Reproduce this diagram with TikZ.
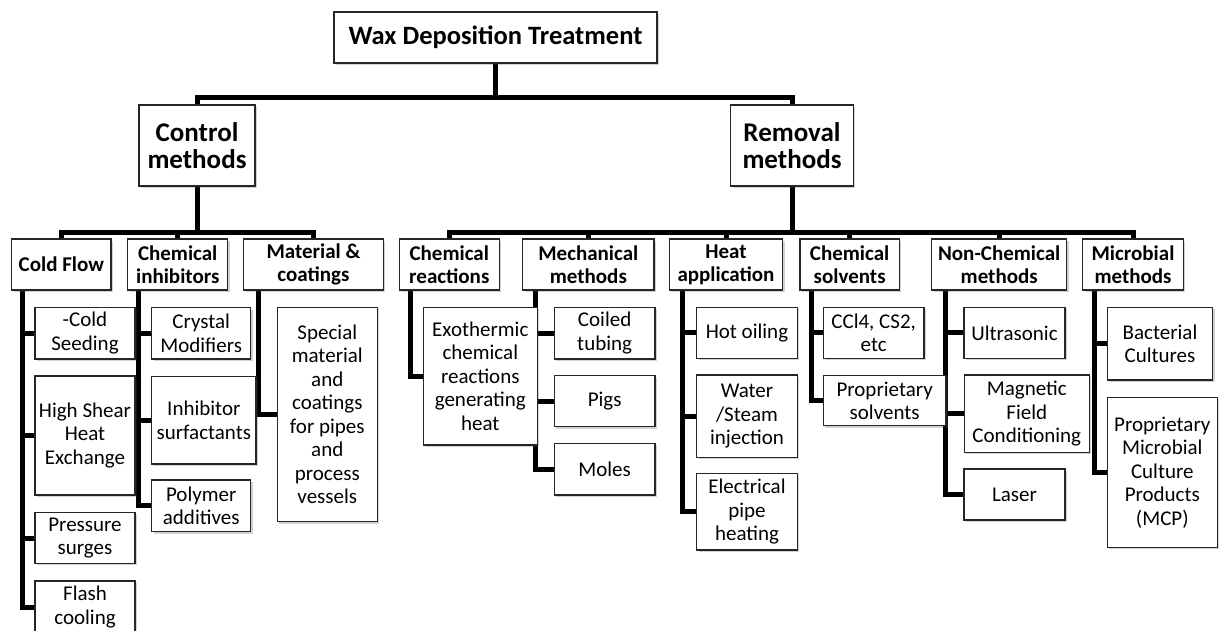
\documentclass[tikz,border=0pt]{standalone}
\usepackage{fontspec}
\setmainfont{Carlito}
\usetikzlibrary{shadows,backgrounds,calc}
\tikzset{
  box/.style={draw=black!85, line width=1.3pt, fill=white, inner sep=0pt, outer sep=0pt, align=center,
    drop shadow={shadow xshift=2pt, shadow yshift=-2pt, opacity=0.25, fill=black!70}},
  lvlzero/.style={box, font=\bfseries\fontsize{26.5}{28}\selectfont},
  lvlone/.style={box, font=\bfseries\fontsize{27}{27.5}\selectfont},
  lvltwo/.style={box, font=\bfseries\fontsize{21}{22.7}\selectfont},
  leaf/.style={box, font=\fontsize{21}{23.5}\selectfont},
  conn/.style={line width=5pt, black},
}
\newcommand\bx[7]{\node[#1, anchor=north west, minimum width={(#5)-(#3)}, minimum height={(#6)-(#4)}] (#2) at (#3,#4) {#7};}
\begin{document}
\begin{tikzpicture}[x=1pt,y=-1pt]
\useasboundingbox (0,0) rectangle (1222,630);
% top levels
\bx{lvlzero}{top}{334}{12}{657}{63}{Wax Deposition Treatment}
\bx{lvlone}{ctrl}{139}{105}{255}{186}{Control\\methods}
\bx{lvlone}{rem}{730.7}{105}{853.3}{186}{Removal\\methods}
% second level
\bx{lvltwo}{cold}{11.7}{239}{111}{290}{Cold Flow}
\bx{lvltwo}{chi}{127.7}{239}{227.7}{290}{Chemical\\inhibitors}
\bx{lvltwo}{mat}{243.7}{239}{383.3}{290}{Material \&\\coatings}
\bx{lvltwo}{crx}{399.3}{239}{499.3}{290}{Chemical\\reactions}
\bx{lvltwo}{mech}{522.7}{239}{654}{290}{Mechanical\\methods}
\bx{lvltwo}{heat}{669.3}{239}{782.7}{290}{Heat\\application}
\bx{lvltwo}{solv}{800}{239}{899.3}{290}{Chemical\\solvents}
\bx{lvltwo}{nonc}{931.7}{239}{1066.7}{290}{Non-Chemical\\methods}
\bx{lvltwo}{micro}{1082.7}{239}{1183.3}{290}{Microbial\\methods}
% leaves
\bx{leaf}{cf1}{35}{307.3}{135}{359}{-Cold\\Seeding}
\bx{leaf}{cf2}{35}{376}{135}{495}{High Shear\\Heat\\Exchange}
\bx{leaf}{cf3}{35}{512.7}{135}{563.3}{Pressure\\surges}
\bx{leaf}{cf4}{35}{581}{135}{633}{Flash\\cooling}
\bx{leaf}{ci1}{151.7}{307.7}{250.7}{359}{Crystal\\Modifiers}
\bx{leaf}{ci2}{151.7}{376.7}{256}{464}{Inhibitor\\surfactants}
\bx{leaf}{ci3}{151.7}{480}{250.7}{531.7}{Polymer\\additives}
\bx{leaf}{mc1}{277.3}{307.3}{377.3}{521.7}{Special\\material\\and\\coatings\\for pipes\\and\\process\\vessels}
\bx{leaf}{cr1}{423.3}{307.3}{537.3}{445}{Exothermic\\chemical\\reactions\\generating\\heat}
\bx{leaf}{mm1}{554.3}{307.3}{655}{359}{Coiled\\tubing}
\bx{leaf}{mm2}{554.3}{375.7}{655}{426.7}{Pigs}
\bx{leaf}{mm3}{554.3}{443.3}{655}{495}{Moles}
\bx{leaf}{ha1}{696.7}{307.3}{797.3}{358.3}{Hot oiling}
\bx{leaf}{ha2}{696.7}{375}{797.3}{457.3}{Water\\/Steam\\injection}
\bx{leaf}{ha3}{696.7}{473.3}{797.3}{550}{Electrical\\pipe\\heating}
\bx{leaf}{cs1}{823.3}{307.3}{924}{358.3}{CCl4, CS2,\\etc}
\bx{leaf}{cs2}{823.3}{375.7}{946}{425.7}{Proprietary\\solvents}
\bx{leaf}{nc1}{964}{307.3}{1065}{358.3}{Ultrasonic}
\bx{leaf}{nc2}{964.3}{375}{1089.3}{452.3}{Magnetic\\Field\\Conditioning}
\bx{leaf}{nc3}{964}{469}{1065}{520}{Laser}
\bx{leaf}{mb1}{1107.3}{307.3}{1212.7}{380}{Bacterial\\Cultures}
\bx{leaf}{mb2}{1107.3}{397.3}{1217.3}{547.3}{Proprietary\\Microbial\\Culture\\Products\\(MCP)}
% connectors
\coordinate (busa) at (0,97);
\coordinate (busb) at (0,232);
\begin{scope}[on background layer]
\draw[conn] (top.south) -- (top.south |- busa);
\draw[conn] (ctrl.north) -- (ctrl.north |- busa) -- (rem.north |- busa) -- (rem.north);
\draw[conn] (ctrl.south) -- (ctrl.south |- busb);
\draw[conn] (cold.north) -- (cold.north |- busb) -- (mat.north |- busb) -- (mat.north);
\draw[conn] (chi.north) -- (chi.north |- busb);
\draw[conn] (rem.south) -- (rem.south |- busb);
\draw[conn] (crx.north) -- (crx.north |- busb) -- (micro.north |- busb) -- (micro.north);
\foreach \n in {mech,heat,solv,nonc} \draw[conn] (\n.north) -- (\n.north |- busb);
% leaf connectors
\foreach \c in {cf1,cf2,cf3,cf4} \draw[conn] ($(cold.south west)+(11,0)$) |- (\c.west);
\foreach \c in {ci1,ci2,ci3} \draw[conn] ($(chi.south west)+(10.6,0)$) |- (\c.west);
\draw[conn] ($(mat.south west)+(14.6,0)$) |- (mc1.west);
\draw[conn] ($(crx.south west)+(11.4,0)$) |- (cr1.west);
\foreach \c in {mm1,mm2,mm3} \draw[conn] ($(mech.south west)+(13,0)$) |- (\c.west);
\foreach \c in {ha1,ha2,ha3} \draw[conn] ($(heat.south west)+(13,0)$) |- (\c.west);
\foreach \c in {cs1,cs2} \draw[conn] ($(solv.south west)+(11.7,0)$) |- (\c.west);
\foreach \c in {nc1,nc2,nc3} \draw[conn] ($(nonc.south west)+(14,0)$) |- (\c.west);
\foreach \c in {mb1,mb2} \draw[conn] ($(micro.south west)+(11.3,0)$) |- (\c.west);
\end{scope}
\end{tikzpicture}
\end{document}
